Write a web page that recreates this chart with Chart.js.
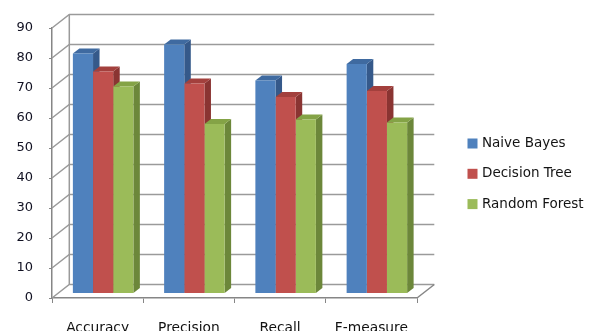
<!DOCTYPE html>
<html>
<head>
<meta charset="utf-8">
<script src="https://cdn.jsdelivr.net/npm/chart.js@4.4.0/dist/chart.umd.min.js"></script>
<style>
  html, body { margin: 0; padding: 0; background: #fff; }
  #wrap { width: 598px; height: 331px; }
</style>
</head>
<body>
<div id="wrap"><canvas id="chart01"></canvas></div>
<script>
/* chart data */
const categories = ["Accuracy", "Precision", "Recall", "F-measure"];
const seriesNames = ["Naive Bayes", "Decision Tree", "Random Forest"];
const naiveBayes = [80, 83, 71, 76.5];
const decisionTree = [74, 70, 65.5, 67.5];
const randomForest = [69, 56.5, 58, 57];
const yTicks = [0, 10, 20, 30, 40, 50, 60, 70, 80, 90];

/* colours: front, top, side */
const faceColors = [
    ["#4F81BD", "#3F6AA0", "#35598A"],
    ["#C0504D", "#A3403D", "#8A3432"],
    ["#9BBB59", "#84A346", "#6C873A"]
];

// depth of the floor / back wall, offset of the bar row, depth of a bar
const WALL = { dx: 17.3, dy: -13.5 };
const BAR_OFF = { dx: 5.5, dy: -4.5 };
const BAR_D = { dx: 6.5, dy: -5 };

const gridColor = "#9A9A9A";
const axisColor = "#868686";

function poly(ctx, pts, color) {
    ctx.beginPath();
    ctx.moveTo(pts[0][0], pts[0][1]);
    for (let i = 1; i < pts.length; i++) ctx.lineTo(pts[i][0], pts[i][1]);
    ctx.closePath();
    ctx.fillStyle = color;
    ctx.fill();
}

/* walls, floor and side faces of the bars */
const threeD = {
    id: "threeD",
    beforeDatasetsDraw(chart) {
        const ctx = chart.ctx;
        const area = chart.chartArea;
        const y = chart.scales.y;

        ctx.save();
        ctx.strokeStyle = gridColor;
        ctx.lineWidth = 1.5;
        // back wall lines + side wall slants
        yTicks.forEach(v => {
            const py = y.getPixelForValue(v);
            ctx.beginPath();
            ctx.moveTo(area.left, py);
            ctx.lineTo(area.left + WALL.dx, py + WALL.dy);
            ctx.lineTo(area.right + WALL.dx, py + WALL.dy);
            ctx.stroke();
        });
        // back wall left edge
        ctx.beginPath();
        ctx.moveTo(area.left + WALL.dx, y.getPixelForValue(0) + WALL.dy);
        ctx.lineTo(area.left + WALL.dx, y.getPixelForValue(90) + WALL.dy);
        ctx.stroke();
        // floor right edge
        ctx.strokeStyle = axisColor;
        ctx.beginPath();
        ctx.moveTo(area.right, area.bottom);
        ctx.lineTo(area.right + WALL.dx, area.bottom + WALL.dy);
        ctx.stroke();
        ctx.restore();

        // bars are set back from the axis plane
        ctx.save();
        ctx.translate(BAR_OFF.dx, BAR_OFF.dy);

        for (let j = 0; j < categories.length; j++) {
            chart.data.datasets.forEach((ds, i) => {
                const bar = chart.getDatasetMeta(i).data[j];
                const p = bar.getProps(["x", "y", "base", "width"], true);
                const l = p.x - p.width / 2, r = p.x + p.width / 2;
                // side
                poly(ctx, [[r, p.y], [r + BAR_D.dx, p.y + BAR_D.dy],
                    [r + BAR_D.dx, p.base + BAR_D.dy], [r, p.base]], faceColors[i][2]);
                // top
                poly(ctx, [[l, p.y], [r, p.y], [r + BAR_D.dx, p.y + BAR_D.dy],
                    [l + BAR_D.dx, p.y + BAR_D.dy]], faceColors[i][1]);
            });
        }
    },
    afterDatasetsDraw(chart) {
        chart.ctx.restore();
    }
};

/* legend on the right */
const sideLegend = {
    id: "sideLegend",
    afterDraw(chart) {
        const ctx = chart.ctx;
        ctx.save();
        ctx.font = "13.5px 'DejaVu Sans'";
        ctx.textBaseline = "middle";
        chart.data.datasets.forEach((ds, i) => {
            const cy = 143.5 + i * 30.3;
            ctx.fillStyle = ds.backgroundColor;
            ctx.fillRect(467.5, cy - 5, 10, 10);
            ctx.fillStyle = "#141414";
            ctx.fillText(ds.label, 482, cy);
        });
        ctx.restore();
    }
};

const seriesData = [naiveBayes, decisionTree, randomForest];

const ctx = document.getElementById("chart01");
const chart01 = new Chart(ctx, {
    type: "bar",
    data: {
        labels: categories,
        datasets: seriesData.map((vals, i) => ({
            label: seriesNames[i],
            data: vals,
            backgroundColor: faceColors[i][0],
            borderWidth: 0,
            categoryPercentage: 0.663,
            barPercentage: 1.0,
            clip: false
        }))
    },
    options: {
        responsive: true,
        maintainAspectRatio: false,
        animation: false,
        layout: { padding: { top: 28, right: 181, left: 0, bottom: 0 } },
        plugins: {
            legend: { display: false },
            tooltip: { enabled: false }
        },
        scales: {
            x: {
                afterFit(scale) { scale.height = 33; },
                grid: {
                    drawOnChartArea: false,
                    drawTicks: true,
                    tickLength: 5,
                    color: axisColor,
                    offset: true
                },
                border: { display: true, color: axisColor, width: 1.5 },
                ticks: {
                    padding: 17,
                    color: "#111111",
                    font: { family: "DejaVu Sans", size: 13.8 }
                }
            },
            y: {
                min: 0,
                max: 90,
                afterFit(scale) { scale.width = 52; },
                afterBuildTicks(scale) { scale.ticks = yTicks.map(v => ({ value: v })); },
                grid: {
                    drawOnChartArea: false,
                    drawTicks: true,
                    tickLength: 3,
                    color: axisColor
                },
                border: { display: true, color: axisColor, width: 1.5 },
                ticks: {
                    padding: 16,
                    color: "#111122",
                    font: { family: "DejaVu Sans", size: 13 }
                }
            }
        }
    },
    plugins: [threeD, sideLegend]
});
</script>
</body>
</html>
